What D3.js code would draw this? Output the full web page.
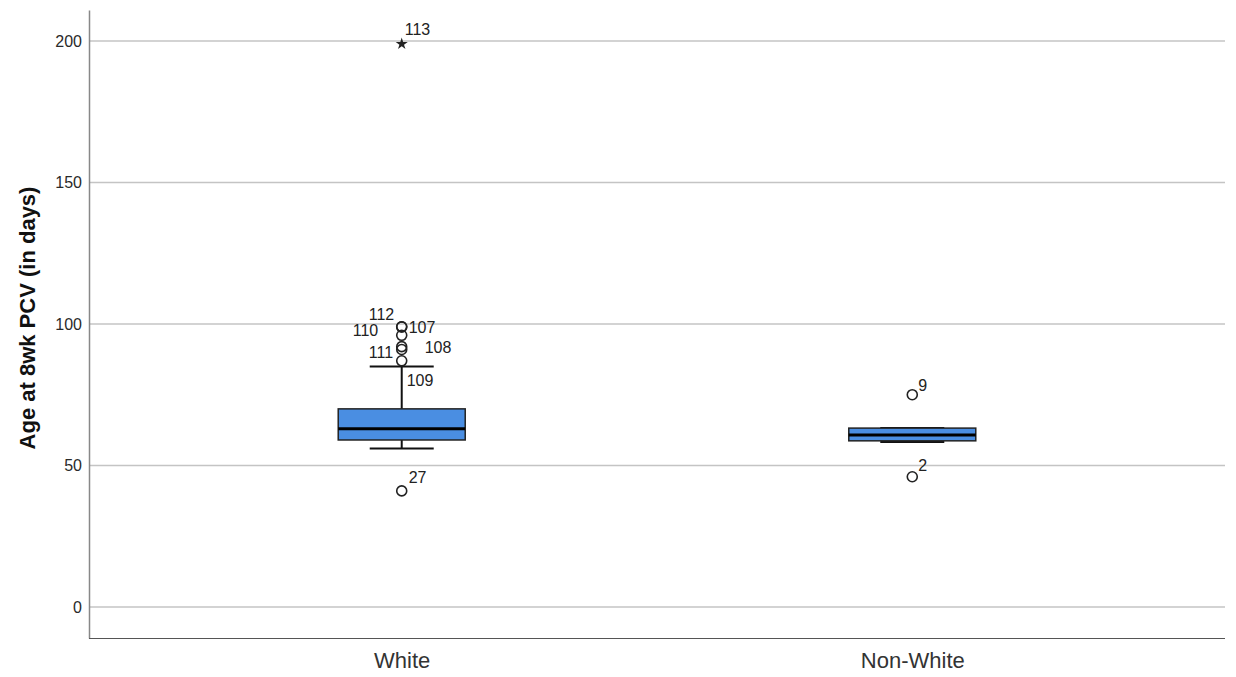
<!DOCTYPE html>
<html>
<head>
<meta charset="utf-8">
<script src="https://cdn.jsdelivr.net/npm/d3@7"></script>
<style>
  html, body { margin: 0; padding: 0; background: #fff; }
  svg { display: block; font-family: Arial, "Liberation Sans", sans-serif; }
</style>
</head>
<body>
<svg id="chart" width="1236" height="677"></svg>
<script>
// Box-plot summaries by group (days)
const categories = ["White", "Non-White"];
const q1Values = [59, 58.7];
const medianValues = [63, 60.8];
const q3Values = [70, 63.2];
const whiskerLow = [56, 58.3];
const whiskerHigh = [85, 63.2];

// Outliers: group, value, case id
const outlierGroups = ["White", "White", "White", "White", "White", "White", "White", "Non-White", "Non-White"];
const outlierValues = [99, 99, 96, 92, 91, 87, 41, 75, 46];
const outlierIds = ["112", "107", "110", "108", "111", "109", "27", "9", "2"];

// Extreme values (drawn as stars)
const extremeGroups = ["White"];
const extremeValues = [199];
const extremeIds = ["113"];

const yTicks = [0, 50, 100, 150, 200];
const yTitle = "Age at 8wk PCV (in days)";

// Label nudges for the crowded outlier labels (px from the point to the label baseline)
const labelNudge = {
  "112": [-33, -7], "107": [7, 6], "110": [-49, 1],
  "108": [23, 6], "111": [-33, 9], "109": [5, 25],
  "27": [7, -8], "9": [6, -4], "2": [6, -6], "113": [3, -9]
};

const svg = d3.select("#chart");
const plotLeft = 89, plotRight = 1225, plotTop = 10, plotBottom = 638;

const y = d3.scaleLinear().domain([-11, 211]).range([plotBottom, plotTop]);
const x = d3.scalePoint().domain(categories).range([plotLeft, plotRight]).padding(0.6125);

// Gridlines
svg.append("g").selectAll("line").data(yTicks).join("line")
  .attr("x1", plotLeft).attr("x2", plotRight)
  .attr("y1", d => y(d)).attr("y2", d => y(d))
  .attr("stroke", "#c4c4c4").attr("stroke-width", 1.5);

// Y axis
const yAxis = svg.append("g").attr("transform", `translate(${plotLeft},0)`)
  .call(d3.axisLeft(y).tickValues(yTicks).tickSize(0).tickPadding(7));
yAxis.select(".domain").attr("stroke", "#888").attr("stroke-width", 1.5);
yAxis.selectAll("text").attr("font-size", 16).attr("fill", "#2a2a2a")
  .attr("font-family", "Arial, 'Liberation Sans', sans-serif");

// X axis
const xAxis = svg.append("g").attr("transform", `translate(0,${plotBottom})`)
  .call(d3.axisBottom(x).tickSize(0).tickPadding(14));
xAxis.select(".domain").attr("stroke", "#555").attr("stroke-width", 1.2)
  .attr("d", `M${plotLeft},0.5H${plotRight}`);
xAxis.selectAll("text").attr("font-size", 22).attr("fill", "#333")
  .attr("font-family", "Arial, 'Liberation Sans', sans-serif");

// Y title
svg.append("text")
  .attr("transform", `translate(35,318) rotate(-90)`)
  .attr("text-anchor", "middle")
  .attr("font-size", 22).attr("font-weight", "bold").attr("fill", "#111")
  .text(yTitle);

const boxW = 127, capW = 64;
const boxes = categories.map((c, i) => ({
  c, q1: q1Values[i], med: medianValues[i], q3: q3Values[i],
  lo: whiskerLow[i], hi: whiskerHigh[i]
}));

const g = svg.append("g");
boxes.forEach(b => {
  const cx = x(b.c);
  // whisker stems
  g.append("line").attr("x1", cx).attr("x2", cx).attr("y1", y(b.hi)).attr("y2", y(b.q3))
    .attr("stroke", "#111").attr("stroke-width", 2);
  g.append("line").attr("x1", cx).attr("x2", cx).attr("y1", y(b.q1)).attr("y2", y(b.lo))
    .attr("stroke", "#111").attr("stroke-width", 2);
  // caps
  [b.hi, b.lo].forEach(v => {
    g.append("line").attr("x1", cx - capW / 2).attr("x2", cx + capW / 2)
      .attr("y1", y(v)).attr("y2", y(v)).attr("stroke", "#111").attr("stroke-width", 2);
  });
  // box
  g.append("rect").attr("x", cx - boxW / 2).attr("width", boxW)
    .attr("y", y(b.q3)).attr("height", y(b.q1) - y(b.q3))
    .attr("fill", "#4a8ee2").attr("stroke", "#222").attr("stroke-width", 1.5);
  // median
  g.append("line").attr("x1", cx - boxW / 2).attr("x2", cx + boxW / 2)
    .attr("y1", y(b.med)).attr("y2", y(b.med)).attr("stroke", "#000").attr("stroke-width", 3);
});

// Outliers
outlierValues.forEach((v, i) => {
  const cx = x(outlierGroups[i]), cy = y(v);
  g.append("circle").attr("cx", cx).attr("cy", cy).attr("r", 5)
    .attr("fill", "none").attr("stroke", "#222").attr("stroke-width", 1.6);
});
outlierValues.forEach((v, i) => {
  const cx = x(outlierGroups[i]), cy = y(v);
  const n = labelNudge[outlierIds[i]];
  g.append("text").attr("x", cx + n[0]).attr("y", cy + n[1])
    .attr("font-size", 16).attr("fill", "#222").text(outlierIds[i]);
});

// Extremes as stars
const star = d3.symbol().type(d3.symbolStar).size(45);
extremeValues.forEach((v, i) => {
  const cx = x(extremeGroups[i]), cy = y(v);
  g.append("path").attr("d", star()).attr("transform", `translate(${cx},${cy})`)
    .attr("fill", "#222");
  const n = labelNudge[extremeIds[i]];
  g.append("text").attr("x", cx + n[0]).attr("y", cy + n[1])
    .attr("font-size", 16).attr("fill", "#222").text(extremeIds[i]);
});
</script>
</body>
</html>
